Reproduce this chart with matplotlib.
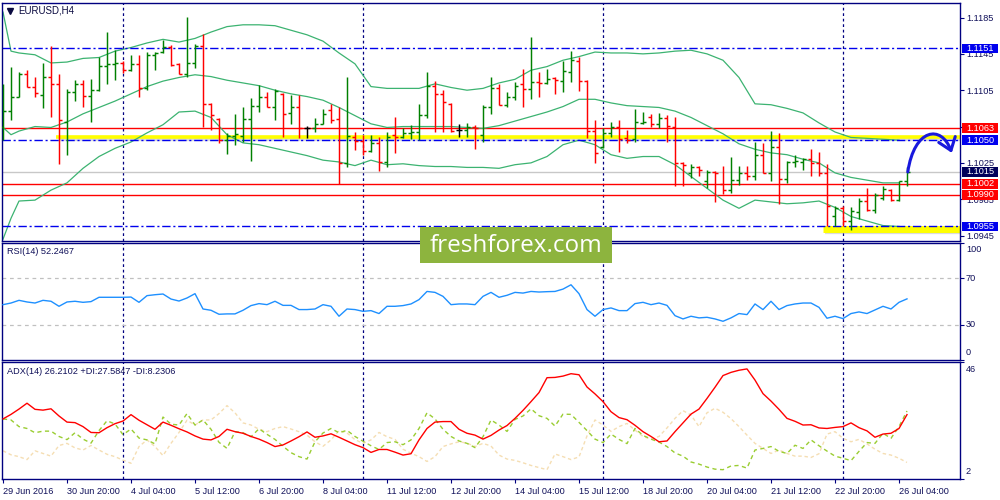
import numpy as np
import matplotlib
matplotlib.use('Agg')
import matplotlib.pyplot as plt
from matplotlib.patches import Rectangle, FancyArrowPatch
from matplotlib.path import Path

plt.rcParams['font.family'] = ['Liberation Sans', 'DejaVu Sans']

# ---------------- data (EURUSD H4, bar 0 = 29 Jun 2016 12:00) ----------------
open_ = [1.1065, 1.1082, 1.1098, 1.1123, 1.1109, 1.1100, 1.1120, 1.1112, 1.1070, 1.1103,
         1.1112, 1.1099, 1.1105, 1.1132, 1.1134, 1.1135, 1.1127, 1.1134, 1.1107, 1.1144,
         1.1147, 1.1153, 1.1134, 1.1123, 1.1135, 1.1154, 1.1090, 1.1073, 1.1050, 1.1055,
         1.1055, 1.1073, 1.1088, 1.1098, 1.1087, 1.1101, 1.1080, 1.1087, 1.1063, 1.1063,
         1.1068, 1.1083, 1.1073, 1.1025, 1.1054, 1.1049, 1.1038, 1.1047, 1.1026, 1.1056,
         1.1053, 1.1058, 1.1059, 1.1078, 1.1110, 1.1101, 1.1090, 1.1061, 1.1061, 1.1065,
         1.1056, 1.1087, 1.1107, 1.1089, 1.1097, 1.1112, 1.1106, 1.1114, 1.1113, 1.1118,
         1.1115, 1.1125, 1.1137, 1.1115, 1.1060, 1.1043, 1.1058, 1.1065, 1.1052, 1.1051,
         1.1069, 1.1076, 1.1068, 1.1074, 1.1065, 1.1025, 1.1014, 1.1021, 1.1005, 1.1015,
         1.1002, 1.0995, 1.1006, 1.1014, 1.1011, 1.1034, 1.1014, 1.1043, 1.1007, 1.1026,
         1.1026, 1.1029, 1.1025, 1.1014, 1.0966, 1.0975, 1.0961, 1.0971, 1.0983, 1.0973,
         1.0986, 1.0995, 1.0984, 1.1005]
high = [1.1112, 1.1131, 1.1125, 1.1127, 1.1119, 1.1135, 1.1154, 1.1123, 1.1106, 1.1116,
        1.1116, 1.1117, 1.1142, 1.1169, 1.1149, 1.1137, 1.1144, 1.1144, 1.1147, 1.1147,
        1.1160, 1.1155, 1.1135, 1.1186, 1.1156, 1.1167, 1.1091, 1.1074, 1.1058, 1.1079,
        1.1087, 1.1096, 1.1111, 1.1103, 1.1106, 1.1102, 1.1100, 1.1100, 1.1066, 1.1074,
        1.1084, 1.1090, 1.1087, 1.1119, 1.1059, 1.1056, 1.1056, 1.1053, 1.1059, 1.1075,
        1.1063, 1.1067, 1.1090, 1.1125, 1.1115, 1.1105, 1.1091, 1.1068, 1.1069, 1.1067,
        1.1089, 1.1120, 1.1112, 1.1103, 1.1114, 1.1128, 1.1164, 1.1125, 1.1128, 1.1119,
        1.1137, 1.1148, 1.1142, 1.1116, 1.1072, 1.1063, 1.1070, 1.1072, 1.1061, 1.1084,
        1.1081, 1.1079, 1.1080, 1.1078, 1.1075, 1.1026, 1.1024, 1.1022, 1.1017, 1.1016,
        1.1022, 1.1031, 1.1022, 1.1022, 1.1048, 1.1047, 1.1060, 1.1058, 1.1027, 1.1034,
        1.1030, 1.1040, 1.1037, 1.1024, 1.0978, 1.0977, 1.0976, 1.0986, 1.0997, 1.0992,
        1.0999, 1.0996, 1.1005, 1.1021]
low = [1.1050, 1.1072, 1.1097, 1.1108, 1.1098, 1.1085, 1.1076, 1.1024, 1.1034, 1.1093,
       1.1086, 1.1070, 1.1104, 1.1112, 1.1116, 1.1124, 1.1126, 1.1097, 1.1105, 1.1127,
       1.1146, 1.1132, 1.1123, 1.1119, 1.1129, 1.1065, 1.1061, 1.1047, 1.1035, 1.1045,
       1.1048, 1.1027, 1.1081, 1.1087, 1.1072, 1.1054, 1.1068, 1.1052, 1.1052, 1.1059,
       1.1068, 1.1069, 1.1002, 1.1021, 1.1039, 1.1034, 1.1037, 1.1016, 1.1021, 1.1036,
       1.1052, 1.1051, 1.1050, 1.1074, 1.1059, 1.1059, 1.1059, 1.1053, 1.1054, 1.1040,
       1.1048, 1.1079, 1.1089, 1.1087, 1.1094, 1.1087, 1.1095, 1.1097, 1.1112, 1.1101,
       1.1103, 1.1114, 1.1104, 1.1052, 1.1025, 1.1041, 1.1053, 1.1037, 1.1047, 1.1048,
       1.1068, 1.1064, 1.1063, 1.1048, 1.0999, 1.1000, 1.1008, 1.1011, 1.0997, 1.0982,
       1.0991, 1.0992, 1.1001, 1.1006, 1.1006, 1.1014, 1.1005, 1.0980, 1.1003, 1.1021,
       1.1017, 1.1011, 1.1011, 1.0955, 1.0955, 1.0955, 1.0951, 1.0963, 1.0972, 1.0970,
       1.0984, 1.0983, 1.0983, 1.1000]
close = [1.1082, 1.1098, 1.1123, 1.1109, 1.1102, 1.1120, 1.1112, 1.1072, 1.1103, 1.1112,
         1.1099, 1.1105, 1.1132, 1.1134, 1.1135, 1.1127, 1.1134, 1.1107, 1.1144, 1.1146,
         1.1153, 1.1133, 1.1123, 1.1135, 1.1154, 1.1090, 1.1078, 1.1050, 1.1055, 1.1057,
         1.1073, 1.1088, 1.1098, 1.1087, 1.1104, 1.1079, 1.1087, 1.1063, 1.1063, 1.1068,
         1.1079, 1.1072, 1.1025, 1.1055, 1.1049, 1.1038, 1.1047, 1.1026, 1.1054, 1.1053,
         1.1058, 1.1059, 1.1078, 1.1110, 1.1101, 1.1092, 1.1060, 1.1061, 1.1065, 1.1063,
         1.1087, 1.1107, 1.1089, 1.1097, 1.1110, 1.1106, 1.1114, 1.1113, 1.1117, 1.1116,
         1.1126, 1.1138, 1.1115, 1.1060, 1.1036, 1.1058, 1.1065, 1.1051, 1.1050, 1.1070,
         1.1070, 1.1068, 1.1074, 1.1066, 1.1025, 1.1023, 1.1021, 1.1017, 1.1015, 1.1014,
         1.0995, 1.1006, 1.1014, 1.1011, 1.1034, 1.1014, 1.1043, 1.1007, 1.1026, 1.1027,
         1.1029, 1.1025, 1.1014, 1.0977, 1.0975, 1.0961, 1.0972, 1.0983, 1.0973, 1.0990,
         1.0996, 1.0984, 1.1005, 1.1015]

# Bollinger Bands (20) read every second bar
bb_idx = [0, 1] + list(range(2, 113, 2))
bb_upper = [1.1191, 1.1148, 1.1146, 1.1144, 1.1135, 1.1136, 1.1140, 1.1141, 1.1148, 1.1152,
            1.1157, 1.1161, 1.1158, 1.1162, 1.1169, 1.1175, 1.1177, 1.1177, 1.1176, 1.1171,
            1.1166, 1.1159, 1.1146, 1.1134, 1.1109, 1.1107, 1.1107, 1.1107, 1.1112, 1.1108,
            1.1105, 1.1107, 1.1113, 1.1117, 1.1127, 1.1131, 1.1138, 1.1142, 1.1147, 1.1146,
            1.1146, 1.1145, 1.1146, 1.1148, 1.1149, 1.1145, 1.1138, 1.1119, 1.1090, 1.1089,
            1.1085, 1.1080, 1.1069, 1.1059, 1.1053, 1.1052, 1.1051, 1.1050]
bb_mid = [1.1064, 1.1056, 1.1060, 1.1065, 1.1064, 1.1070, 1.1079, 1.1086, 1.1093, 1.1101,
          1.1109, 1.1115, 1.1119, 1.1122, 1.1120, 1.1116, 1.1113, 1.1110, 1.1105, 1.1101,
          1.1098, 1.1094, 1.1086, 1.1077, 1.1068, 1.1064, 1.1065, 1.1065, 1.1065, 1.1065,
          1.1064, 1.1063, 1.1066, 1.1071, 1.1076, 1.1081, 1.1087, 1.1095, 1.1095, 1.1091,
          1.1088, 1.1087, 1.1086, 1.1082, 1.1075, 1.1066, 1.1057, 1.1046, 1.1040, 1.1036,
          1.1034, 1.1029, 1.1025, 1.1014, 1.1009, 1.1006, 1.1003, 1.1003]
bb_lower = [1.0941, 1.0964, 1.0983, 1.0984, 1.0995, 1.1003, 1.1019, 1.1032, 1.1041, 1.1048,
            1.1058, 1.1067, 1.1081, 1.1082, 1.1075, 1.1056, 1.1047, 1.1045, 1.1041, 1.1037,
            1.1033, 1.1028, 1.1026, 1.1022, 1.1028, 1.1023, 1.1024, 1.1022, 1.1021, 1.1021,
            1.1020, 1.1020, 1.1019, 1.1023, 1.1025, 1.1032, 1.1045, 1.1050, 1.1045, 1.1034,
            1.1030, 1.1032, 1.1032, 1.1023, 1.1010, 1.0997, 1.0984, 1.0975, 1.0984, 1.0982,
            1.0980, 1.0981, 1.0983, 1.0976, 1.0966, 1.0961, 1.0956, 1.0955]

rsi = [47.3, 48.7, 51.0, 49.6, 48.7, 51.0, 50.2, 45.9, 49.6, 50.2,
       49.3, 49.9, 53.6, 53.6, 53.6, 53.6, 53.8, 49.3, 55.0, 55.8,
       56.4, 52.1, 50.4, 53.0, 56.7, 43.6, 42.5, 39.1, 39.4, 39.4,
       42.5, 46.5, 48.2, 47.3, 50.2, 46.7, 46.7, 43.1, 43.1, 43.6,
       47.3, 45.9, 37.4, 43.6, 43.1, 41.6, 42.2, 39.7, 45.9, 45.9,
       46.5, 47.9, 51.6, 58.6, 57.8, 54.4, 47.3, 47.9, 47.9, 47.3,
       54.4, 57.8, 53.6, 55.3, 57.8, 57.2, 58.6, 58.1, 58.4, 58.6,
       60.6, 64.3, 56.7, 43.1, 37.4, 43.1, 44.5, 42.2, 42.2, 48.2,
       49.3, 47.3, 48.7, 46.7, 37.9, 35.1, 37.4, 36.0, 36.5, 35.1,
       33.1, 36.0, 39.7, 38.8, 47.9, 43.1, 50.2, 43.1, 46.5, 47.9,
       48.7, 48.7, 45.0, 35.7, 37.4, 35.4, 39.7, 41.1, 39.7, 42.8,
       45.9, 43.6, 49.3, 52.2467]

adx = [24.6, 26.3, 28.3, 30.5, 28.2, 27.9, 28.4, 25.7, 23.4, 23.2,
       21.7, 19.5, 19.4, 21.3, 22.8, 23.8, 26.2, 24.1, 22.4, 20.7,
       23.4, 22.2, 20.9, 19.7, 18.2, 17.0, 16.7, 18.0, 20.7, 19.8,
       19.2, 18.0, 17.0, 15.7, 14.2, 14.8, 16.3, 17.9, 19.7, 17.7,
       18.2, 19.0, 17.7, 16.3, 14.9, 13.8, 12.0, 13.1, 13.1, 12.1,
       11.0, 11.5, 16.7, 21.0, 23.4, 23.6, 23.6, 20.7, 19.2, 18.5,
       17.0, 18.4, 20.4, 22.1, 24.8, 27.8, 31.1, 34.5, 40.1, 40.2,
       40.7, 41.6, 41.2, 36.6, 34.0, 31.1, 27.3, 25.1, 24.3, 22.2,
       19.8, 18.0, 16.0, 16.3, 19.8, 23.1, 26.4, 28.3, 32.3, 36.5,
       40.9, 42.1, 42.9, 43.4, 39.2, 34.1, 31.3, 28.2, 24.8, 23.7,
       22.3, 22.4, 21.2, 21.0, 21.4, 21.7, 23.1, 21.3, 20.1, 17.7,
       18.9, 19.2, 21.0, 26.2102]
plus_di = [24.6, 24.2, 21.7, 21.0, 19.4, 20.0, 20.0, 18.0, 16.8, 19.4,
           17.0, 15.5, 20.2, 23.9, 22.7, 18.7, 20.8, 17.4, 16.7, 15.2,
           25.3, 22.6, 22.3, 26.6, 22.3, 24.2, 20.7, 15.8, 13.5, 19.8,
           19.4, 17.9, 20.9, 18.8, 16.9, 14.3, 11.9, 10.4, 9.5, 16.0,
           19.3, 21.0, 19.4, 20.3, 18.0, 16.2, 14.5, 13.1, 15.7, 16.0,
           14.9, 16.7, 21.0, 26.9, 24.6, 20.7, 18.0, 16.3, 15.4, 13.8,
           17.9, 24.2, 22.3, 19.9, 24.4, 25.7, 28.4, 25.8, 24.8, 21.9,
           26.4, 26.3, 23.3, 20.2, 17.0, 15.7, 18.9, 16.9, 15.3, 21.0,
           18.4, 17.0, 15.9, 14.2, 11.8, 10.6, 8.4, 7.6, 6.5, 5.7,
           5.5, 6.9, 7.1, 6.1, 12.9, 13.5, 14.2, 12.4, 11.6, 14.7,
           13.5, 16.7, 14.5, 12.5, 10.6, 9.8, 8.9, 12.4, 15.7, 15.4,
           19.2, 17.3, 21.7, 27.5847]
minus_di = [12.6, 11.1, 10.4, 9.3, 12.6, 11.6, 10.6, 14.6, 15.4, 13.7,
            12.9, 14.6, 12.9, 11.3, 10.4, 9.1, 7.9, 14.2, 16.7, 14.2,
            10.8, 15.4, 19.5, 24.1, 22.3, 24.2, 24.2, 26.6, 29.6, 26.9,
            23.1, 22.3, 20.7, 19.8, 21.0, 21.7, 20.8, 19.8, 18.5, 16.0,
            14.3, 16.7, 20.2, 19.3, 16.8, 15.4, 16.7, 19.5, 17.9, 16.9,
            13.2, 11.7, 10.4, 8.6, 10.4, 14.2, 15.2, 16.0, 15.5, 14.2,
            15.4, 14.4, 11.0, 9.5, 9.0, 8.1, 7.1, 6.3, 5.5, 11.4,
            10.4, 9.3, 10.3, 18.2, 24.2, 22.3, 19.9, 21.7, 22.9, 20.4,
            18.0, 17.0, 18.0, 21.2, 24.8, 27.7, 26.1, 21.7, 26.9, 28.6,
            27.1, 24.7, 21.7, 18.5, 15.4, 13.5, 11.6, 12.9, 11.6, 10.6,
            10.6, 10.1, 11.5, 18.9, 19.8, 17.3, 16.0, 16.9, 15.2, 13.2,
            11.6, 11.0, 9.8, 8.2306]

time_labels = ["29 Jun 2016", "30 Jun 20:00", "4 Jul 04:00", "5 Jul 12:00", "6 Jul 20:00",
               "8 Jul 04:00", "11 Jul 12:00", "12 Jul 20:00", "14 Jul 04:00", "15 Jul 12:00",
               "18 Jul 20:00", "20 Jul 04:00", "21 Jul 12:00", "22 Jul 20:00", "26 Jul 04:00"]
time_label_bars = list(range(0, 113, 8))
week_starts = [15, 45, 75, 105]

price_ticks = [1.0945, 1.0985, 1.1025, 1.1065, 1.1105, 1.1145, 1.1185]
price_tick_labels = ['1.0945', '1.0985', '1.1025', '', '1.1105', '1.1145', '1.1185']
level_prices = [1.1151, 1.1063, 1.1050, 1.1015, 1.1002, 1.0990, 1.0955]
level_kinds = ['blue', 'red', 'blue', 'bid', 'red', 'red', 'blue']
yellow_zones = [(6.6, 1.1054, 2.6), (102.5, 1.09525, 5.0)]  # start bar, price, width

# ---------------- styling ----------------
NAVY = '#000080'
TXT = '#10105a'
GREEN = '#008000'
RED = '#ff0000'
BLUE = '#0000ee'
FS = 6.6

W, H = 1000, 500
fig = plt.figure(figsize=(W / 100, H / 100), dpi=100)
fig.patch.set_facecolor('white')


def frame(x0, y0, x1, y1):
    return [x0 / W, 1 - y1 / H, (x1 - x0) / W, (y1 - y0) / H]


ax = fig.add_axes(frame(2, 3, 960, 241))
ax_r = fig.add_axes(frame(2, 243, 960, 360))
ax_a = fig.add_axes(frame(2, 362, 960, 479))

xlim = (-0.125, 119.625)
for a in (ax, ax_r, ax_a):
    a.set_xlim(*xlim)
    for s in a.spines.values():
        s.set_color(NAVY)
        s.set_linewidth(1.0)
    a.yaxis.tick_right()
    a.tick_params(axis='y', direction='out', length=3, width=0.8, color=NAVY,
                  labelsize=FS, labelcolor=TXT, pad=1.5)
    a.tick_params(axis='x', length=0, labelbottom=False)
    for b in week_starts:
        a.axvline(b, color=NAVY, lw=0.9, ls=(0, (2.2, 2.2)), zorder=1)

# ---------------- main price panel ----------------
ax.set_ylim(1.0939, 1.1201)
ax.set_yticks(price_ticks)
ax.set_yticklabels(price_tick_labels)

ytr = ax.get_yaxis_transform()
box_colors = {'blue': BLUE, 'red': RED, 'bid': '#00005a'}
for p, k in zip(level_prices, level_kinds):
    if k == 'blue':
        ax.axhline(p, color=BLUE, lw=1.0, ls=(0, (6, 2, 1.5, 2)), zorder=2.2)
    elif k == 'red':
        ax.axhline(p, color=RED, lw=1.0, zorder=1.2)
    else:
        ax.axhline(p, color='#c8c8c8', lw=1.0, zorder=1.1)
    half = 0.00054
    ax.add_patch(Rectangle((1.0021, p - half), 0.0376, 2 * half, transform=ytr,
                           facecolor=box_colors[k], edgecolor='none', clip_on=False, zorder=5))
    ax.text(1.0209, p, f'{p:.4f}', transform=ytr, ha='center', va='center',
            color='white', fontsize=FS, clip_on=False, zorder=6)

for start, p, lw in yellow_zones:
    ax.plot([start + 0.3, xlim[1]], [p - 0.00030, p - 0.00030], color='#9a9a9a',
            lw=lw * 0.9, alpha=0.35, solid_capstyle='butt', zorder=1.3)
    ax.plot([start, xlim[1]], [p, p], color='#ffff00', lw=lw,
            solid_capstyle='butt', zorder=1.5)

ax.plot(bb_idx, bb_upper, color='#3cb371', lw=0.9, zorder=2)
ax.plot(bb_idx, bb_mid, color='#3cb371', lw=0.9, zorder=2)
ax.plot(bb_idx, bb_lower, color='#3cb371', lw=0.9, zorder=2)

x = np.arange(len(close))
o = np.array(open_)
c = np.array(close)
cols = [GREEN if cc > oo else (RED if cc < oo else '#000000') for oo, cc in zip(o, c)]
ax.vlines(x, low, high, colors=cols, lw=1.05, zorder=3)
ax.hlines(o, x - 0.4, x, colors=cols, lw=1.05, zorder=3)
ax.hlines(c, x, x + 0.4, colors=cols, lw=1.05, zorder=3)

# forecast arrow
verts = [(113.1, 1.1015), (113.9, 1.1063), (117.3, 1.1068), (118.6, 1.1036)]
path = Path(verts, [Path.MOVETO, Path.CURVE4, Path.CURVE4, Path.CURVE4])
arr = FancyArrowPatch(path=path, arrowstyle='->,head_length=0.6,head_width=0.45',
                      mutation_scale=14, color='#1818dd', lw=2.2, zorder=7,
                      transform=ax.transData, clip_on=False)
ax.add_patch(arr)

# ---------------- RSI panel ----------------
ax_r.set_ylim(0, 100)
ax_r.set_yticks([0, 30, 70, 100])
ax_r.set_yticklabels([])
ax_r.axhline(70, color='#c0c0c0', lw=0.9, ls=(0, (3, 3)), zorder=1)
ax_r.axhline(30, color='#c0c0c0', lw=0.9, ls=(0, (3, 3)), zorder=1)
ax_r.plot(x, rsi, color='#1e90ff', lw=1.0, zorder=3)
rtr = ax_r.get_yaxis_transform()
for v, lab, va, dy in [(100, '100', 'top', -1.5), (70, '70', 'center', 0),
                       (30, '30', 'center', 0), (0, '0', 'bottom', 2)]:
    ax_r.annotate(lab, xy=(1, v), xycoords=rtr, xytext=(4.3, dy), textcoords='offset points',
                  ha='left', va=va, fontsize=FS, color=TXT, annotation_clip=False)

# ---------------- ADX panel ----------------
ax_a.set_ylim(2, 46)
ax_a.set_yticks([2, 46])
ax_a.set_yticklabels([])
ax_a.plot(x, minus_di, color='#f5deb3', lw=1.0, ls=(0, (2.5, 2.0)), zorder=2)
ax_a.plot(x, plus_di, color='#9acd32', lw=1.0, ls=(0, (3, 2.5)), zorder=2.5)
ax_a.plot(x, adx, color='#ff0000', lw=1.0, zorder=3)
atr = ax_a.get_yaxis_transform()
for v, lab, va, dy in [(46, '46', 'top', -2.5), (2, '2', 'bottom', 2.5)]:
    ax_a.annotate(lab, xy=(1, v), xycoords=atr, xytext=(4.3, dy), textcoords='offset points',
                  ha='left', va=va, fontsize=FS, color=TXT, annotation_clip=False)

ax_a.set_xticks(time_label_bars)
ax_a.set_xticklabels(time_labels, ha='left')
ax_a.tick_params(axis='x', length=3, width=0.8, color=NAVY, direction='out',
                 labelbottom=True, labelsize=FS, labelcolor=TXT, pad=3)

# ---------------- panel titles ----------------
fig.text(18 / W, 1 - 10.5 / H, 'EURUSD,H4', fontsize=FS + 0.4, color='#0a0a40', va='center')
ax.plot([0.0085], [0.966], marker='v', ms=4.5, color='#0a0a40', transform=ax.transAxes,
        clip_on=False, zorder=8)
fig.text(7 / W, 1 - 251.5 / H, 'RSI(14) 52.2467', fontsize=FS, color=TXT, va='center')
fig.text(7 / W, 1 - 372 / H, 'ADX(14) 26.2102 +DI:27.5847 -DI:8.2306', fontsize=FS,
         color=TXT, va='center')

# ---------------- watermark ----------------
fig.add_artist(Rectangle((420 / W, 1 - 263 / H), 192 / W, 36 / H, transform=fig.transFigure,
                         facecolor='#8db43e', edgecolor='none', zorder=10))
fig.text(516 / W, 1 - 246 / H, 'freshforex.com', fontsize=17.5, color='white',
         family=['Open Sans', 'DejaVu Sans'], ha='center', va='center', zorder=11)

fig.savefig('out.png', dpi=100, facecolor='white')
